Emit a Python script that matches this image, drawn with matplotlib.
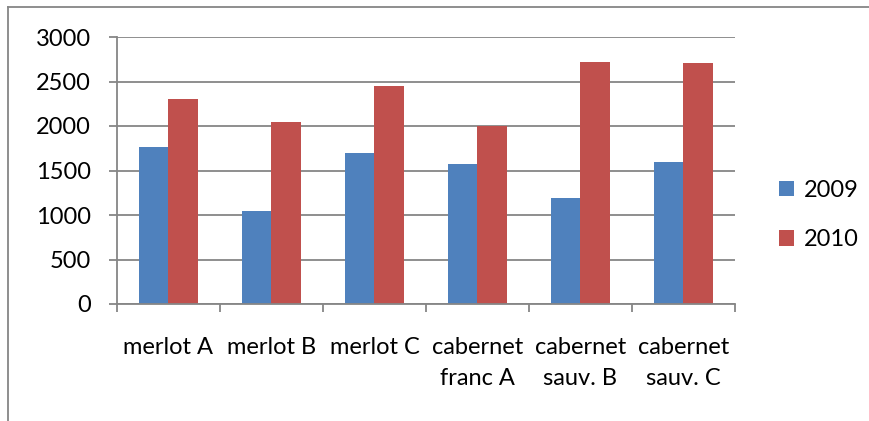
import matplotlib.pyplot as plt
import numpy as np
from matplotlib.lines import Line2D

categories = ["merlot A", "merlot B", "merlot C", "cabernet\nfranc A", "cabernet\nsauv. B", "cabernet\nsauv. C"]
series_names = ["2009", "2010"]
v2009 = [1760, 1050, 1700, 1570, 1190, 1600]
v2010 = [2300, 2040, 2450, 2000, 2720, 2710]
yticks = [0, 500, 1000, 1500, 2000, 2500, 3000]

blue = "#4F81BD"
red = "#C0504D"
grid = "#868686"

plt.rcParams['font.family'] = ['Lato', 'DejaVu Sans']
fs = 17

fig = plt.figure(figsize=(8.7, 4.21), dpi=100)
W, H = 870, 421
ax = fig.add_axes([117 / W, 1 - 304 / H, (735 - 117) / W, (304 - 37) / H])

x = np.arange(len(categories))
bw = 1 / 3.5
ax.bar(x - bw / 2, v2009, bw, color=blue, label=series_names[0])
ax.bar(x + bw / 2, v2010, bw, color=red, label=series_names[1])

ax.set_xlim(-0.5, len(categories) - 0.5)
ax.set_ylim(0, 3000)
ax.set_yticks(yticks)
ax.yaxis.grid(True, color=grid, linewidth=1.3)
ax.set_axisbelow(True)
for s in ["top", "right"]:
    ax.spines[s].set_visible(False)
for s in ["left", "bottom"]:
    ax.spines[s].set_color(grid)
    ax.spines[s].set_linewidth(1.3)

ax.set_xticks(np.arange(len(categories) + 1) - 0.5)
ax.set_xticklabels([])
ax.set_xticks(x, minor=True)
ax.set_xticklabels(categories, minor=True, fontsize=fs, linespacing=1.6)
ax.tick_params(axis="x", which="major", length=6, width=1.3, color=grid)
ax.tick_params(axis="x", which="minor", length=0, pad=23.5)
ax.tick_params(axis="y", length=6, width=1.3, color=grid, labelsize=fs, pad=13)

leg = ax.legend(loc="center left", frameon=False, fontsize=fs,
                handlelength=0.65, handleheight=0.65, handletextpad=0.4,
                labelspacing=1.2, borderpad=0, borderaxespad=0)
leg.set_bbox_to_anchor((779 / W, 1 - 215 / H), transform=fig.transFigure)

# frame of the chart area (only top and left edges are visible)
fig.add_artist(Line2D([8 / W, 8 / W], [0, 1 - 7 / H], transform=fig.transFigure, color=grid, linewidth=1.3))
fig.add_artist(Line2D([8 / W, 1], [1 - 7 / H, 1 - 7 / H], transform=fig.transFigure, color=grid, linewidth=1.3))

fig.savefig("out.png", dpi=100)
